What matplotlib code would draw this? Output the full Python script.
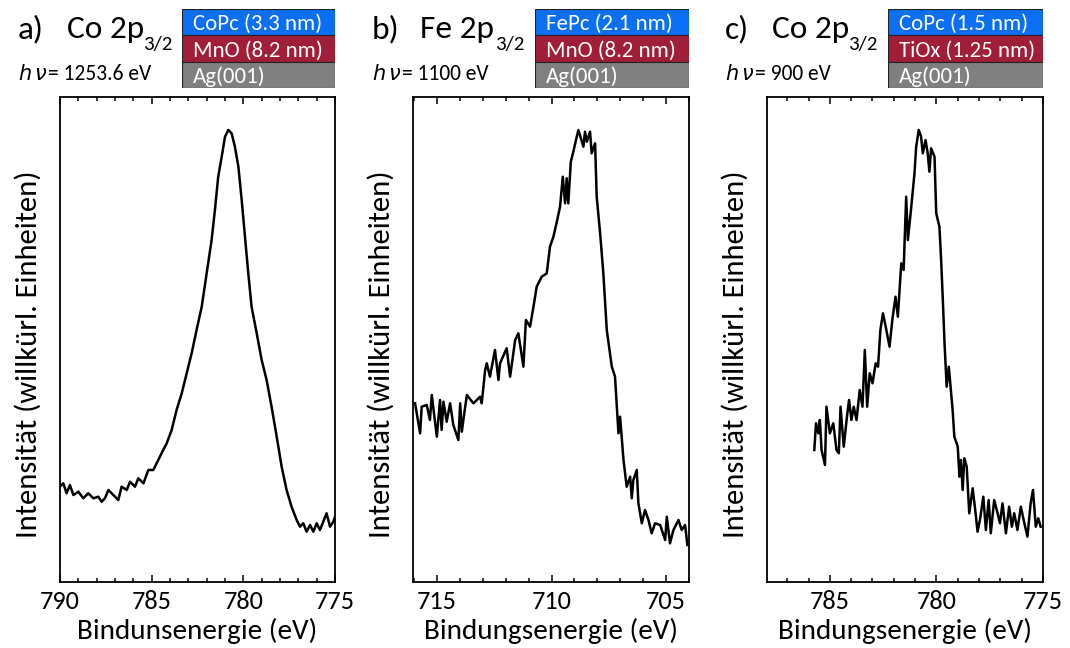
import matplotlib
matplotlib.use("Agg")
import matplotlib.pyplot as plt
from matplotlib.patches import Rectangle

# ---------------- data ----------------
energy_a = [790.0, 789.82, 789.64, 789.46, 789.27, 789.0, 788.73, 788.46, 788.18, 787.91,
            787.73, 787.55, 787.36, 787.09, 786.82, 786.64, 786.36, 786.18, 785.91, 785.73,
            785.45, 785.18, 784.91, 784.73, 784.46, 784.18, 783.91, 783.64, 783.36, 783.09,
            782.82, 782.55, 782.27, 782.0, 781.73, 781.55, 781.37, 781.18, 781.0, 780.82,
            780.64, 780.46, 780.27, 780.09, 779.91, 779.73, 779.55, 779.27, 779.0, 778.73,
            778.46, 778.18, 777.91, 777.64, 777.37, 777.09, 776.91, 776.73, 776.55, 776.36,
            776.18, 776.0, 775.82, 775.64, 775.46, 775.27, 775.09, 775.0]
intensity_a = [95.3, 98.7, 88.7, 97, 87, 90.3, 83.7, 88.7, 83.7, 85.3,
               80.3, 83.7, 92, 87, 82, 95.3, 92, 100.3, 95.3, 103.7,
               98.7, 112, 112, 118.7, 128.7, 138.7, 152, 172, 188.7, 208.7,
               228.7, 252, 275.3, 308.7, 342, 372, 405.3, 425.3, 445.3, 452,
               448.7, 435.3, 415.3, 382, 345.3, 308.7, 275.3, 248.7, 222, 202,
               175.3, 145.3, 115.3, 92, 75.3, 62, 55.3, 58.7, 50.3, 57,
               50.3, 58.7, 52, 60.3, 68.7, 55.3, 60.3, 65.3]

energy_b = [715.96, 715.74, 715.67, 715.45, 715.31, 715.23, 715.01, 714.87, 714.80, 714.72,
            714.58, 714.43, 714.29, 714.07, 713.99, 713.92, 713.70, 713.41, 713.12, 713.05,
            712.90, 712.83, 712.69, 712.47, 712.32, 712.25, 711.96, 711.81, 711.59, 711.45,
            711.23, 711.12, 710.94, 710.79, 710.65, 710.43, 710.21, 710.07, 709.92, 709.77,
            709.63, 709.51, 709.41, 709.34, 709.27, 709.16, 709.05, 708.90, 708.83, 708.61,
            708.54, 708.46, 708.32, 708.25, 708.10, 708.03, 707.88, 707.74, 707.59, 707.37,
            707.23, 707.08, 707.01, 706.94, 706.86, 706.72, 706.57, 706.50, 706.43, 706.28,
            706.21, 706.06, 705.92, 705.77, 705.63, 705.48, 705.26, 705.04, 704.97, 704.83,
            704.68, 704.46, 704.32, 704.17, 704.07]
intensity_b = [178.7, 148.7, 175.3, 177, 162, 187, 145.3, 182, 152, 180.3,
               160.3, 178.7, 157, 142, 178.7, 150.3, 187, 178.7, 185.3, 178.7,
               212, 218.7, 205.3, 232, 202, 218.7, 233.7, 205.3, 242, 248.7,
               215.3, 262, 255.3, 275.3, 295.3, 305.3, 308.7, 335.3, 345.3, 360.3,
               375.3, 405.3, 378.7, 403.7, 378.7, 420.3, 430.3, 445.3, 452, 435.3,
               450.3, 440.3, 450.3, 428.7, 438.7, 385.3, 348.7, 308.7, 252, 215.3,
               205.3, 148.7, 165.3, 145.3, 122, 95.3, 105.3, 83.7, 102, 112,
               78.7, 58.7, 72, 62, 48.7, 58.7, 57, 42, 65.3, 38.7,
               52, 62, 52, 57, 37]

energy_c = [785.73, 785.65, 785.54, 785.47, 785.39, 785.23, 785.16, 785.0, 784.84, 784.69,
            784.58, 784.5, 784.35, 784.19, 784.1, 783.99, 783.88, 783.75, 783.6, 783.47,
            783.36, 783.25, 783.13, 783.0, 782.85, 782.74, 782.63, 782.51, 782.38, 782.2,
            782.07, 781.92, 781.81, 781.65, 781.54, 781.42, 781.34, 781.18, 781.03, 780.95,
            780.83, 780.72, 780.64, 780.51, 780.41, 780.33, 780.25, 780.09, 780.01, 779.86,
            779.78, 779.7, 779.62, 779.52, 779.42, 779.31, 779.24, 779.16, 779.0, 778.92,
            778.85, 778.77, 778.69, 778.58, 778.46, 778.3, 778.18, 778.07, 777.96, 777.8,
            777.68, 777.55, 777.45, 777.29, 777.13, 777.02, 776.9, 776.74, 776.59, 776.46,
            776.35, 776.2, 776.04, 775.89, 775.73, 775.58, 775.47, 775.34, 775.22, 775.11]
intensity_c = [132, 158.7, 148.7, 162, 132, 117, 175.3, 148.7, 158.7, 132,
               128.7, 175.3, 135.3, 167, 182, 162, 175.3, 162, 192, 175.3,
               232, 175.3, 208.7, 198.7, 218.7, 215.3, 252, 268.7, 255.3, 235.3,
               262, 285.3, 265.3, 318.7, 312, 385.3, 342, 375.3, 408.7, 435.3,
               452, 445.3, 428.7, 442, 428.7, 410.3, 433.7, 425.3, 368.7, 355.3,
               322, 282, 238.7, 195.3, 215.3, 188.7, 172, 145.3, 135.3, 105.3,
               122, 92, 123.7, 115.3, 68.7, 93.7, 72, 50.3, 62, 85.3,
               52, 82, 48.7, 82, 68.7, 58.7, 78.7, 48.7, 75.3, 55.3,
               68.7, 52, 75.3, 60.3, 45.3, 78.7, 92, 55.3, 63.7, 55.3]

panel_letters = ["a)", "b)", "c)"]
core_levels = ["Co 2p", "Fe 2p", "Co 2p"]
core_sub = ["3/2", "3/2", "3/2"]
photon_energies = ["= 1253.6 eV", "= 1100 eV", "= 900 eV"]
layers_a = ["CoPc (3.3 nm)", "MnO (8.2 nm)", "Ag(001)"]
layers_b = ["FePc (2.1 nm)", "MnO (8.2 nm)", "Ag(001)"]
layers_c = ["CoPc (1.5 nm)", "TiOx (1.25 nm)", "Ag(001)"]
major_ticks_a = [790, 785, 780, 775]
major_ticks_b = [715, 710, 705]
major_ticks_c = [785, 780, 775]
xlabels = ["Bindunsenergie (eV)", "Bindungsenergie (eV)", "Bindungsenergie (eV)"]
ylabel = "Intensität (willkürl. Einheiten)"

# ---------------- style / layout ----------------
W, H = 1070, 648
FONT = ["Carlito", "Lato", "DejaVu Sans"]
plt.rcParams["font.family"] = FONT
layer_colors = ["#0A6FF2", "#A11E38", "#808080"]

xlims = [(790, 775), (716.05, 704.0), (787.95, 775)]
axes_px = [(60, 97, 335, 582), (413, 97, 689, 582), (767, 97, 1043, 582)]
box_px = [(182, 9, 335, 88), (535, 9, 689, 88), (888, 9, 1043, 88)]
letter_x = [18, 372, 725]
core_x = [67, 420, 772]
sub_x = [143, 495, 848]

fig = plt.figure(figsize=(W / 100, H / 100), dpi=100)


def frect(l, t, r, b):
    return [l / W, 1 - b / H, (r - l) / W, (b - t) / H]


energies = [energy_a, energy_b, energy_c]
intens = [intensity_a, intensity_b, intensity_c]
majors = [major_ticks_a, major_ticks_b, major_ticks_c]
layers = [layers_a, layers_b, layers_c]

for i in range(3):
    ax = fig.add_axes(frect(*axes_px[i]))
    ax.plot(energies[i], intens[i], color="black", lw=1.8)
    ax.set_xlim(*xlims[i])
    ax.set_ylim(0, 485)
    ax.set_xticks(majors[i])
    lo, hi = min(xlims[i]), max(xlims[i])
    ax.set_xticks([v for v in range(int(lo), int(hi) + 1) if v not in majors[i] and lo <= v <= hi], minor=True)
    ax.set_yticks([])
    ax.tick_params(axis="x", which="both", direction="in", top=True, labelsize=19, pad=6, width=1.1)
    ax.tick_params(axis="x", which="major", length=5)
    ax.tick_params(axis="x", which="minor", length=3)
    for s in ax.spines.values():
        s.set_linewidth(1.3)
    ax.set_xlabel(xlabels[i], fontsize=21)
    ax.xaxis.set_label_coords(0.5, -0.074)
    ax.set_ylabel(ylabel, fontsize=22)
    ax.yaxis.set_label_coords(-0.068, 0.47)

    # titles
    fig.text(letter_x[i] / W, 1 - 38 / H, panel_letters[i], fontsize=24, va="baseline", ha="left")
    fig.text(core_x[i] / W, 1 - 38 / H, core_levels[i], fontsize=24, va="baseline", ha="left")
    fig.text(sub_x[i] / W, 1 - 50 / H, core_sub[i], fontsize=15, va="baseline", ha="left")
    fig.text(letter_x[i] / W, 1 - 80 / H, "$h\\,\\nu$", fontsize=15, va="baseline", ha="left")
    fig.text((letter_x[i] + 30) / W, 1 - 80 / H, photon_energies[i], fontsize=15.5, va="baseline", ha="left")

    # layer stack box
    bx = fig.add_axes(frect(*box_px[i]))
    bx.set_xlim(0, 1)
    bx.set_ylim(0, 3)
    bx.axis("off")
    for k in range(3):
        y0 = 2 - k
        bx.add_patch(Rectangle((0, y0), 1, 1, facecolor=layer_colors[k], edgecolor="#222222", lw=0.8))
        bx.text(0.07, y0 + 0.42, layers[i][k], color="white", fontsize=16.5, va="center", ha="left", clip_on=True)

fig.savefig("out.png", dpi=100)
